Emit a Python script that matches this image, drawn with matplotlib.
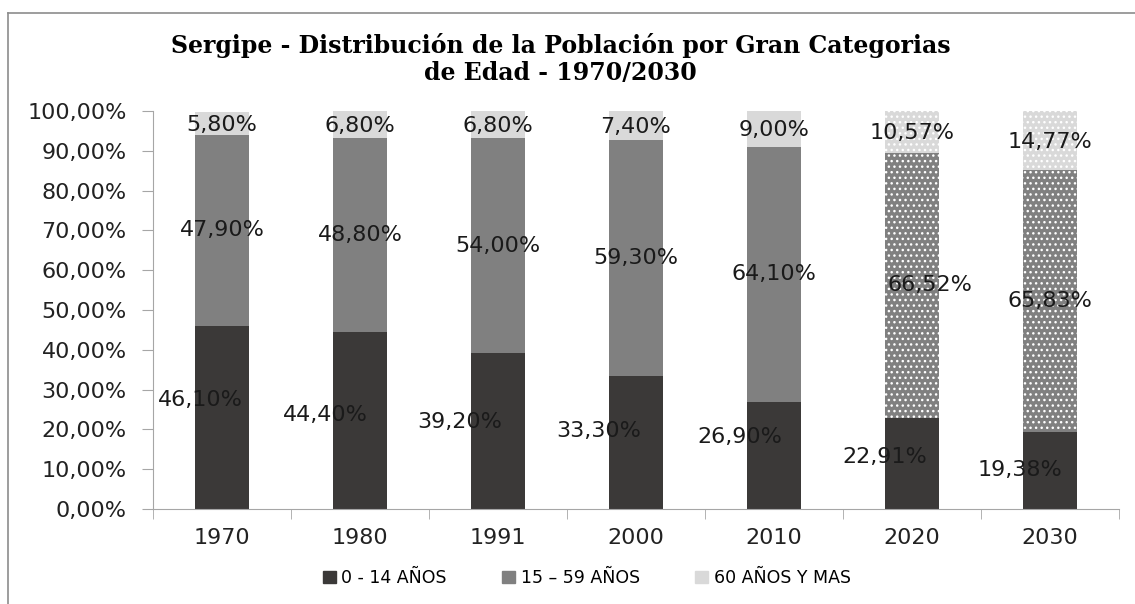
import matplotlib.pyplot as plt
from matplotlib.lines import Line2D

years = ['1970', '1980', '1991', '2000', '2010', '2020', '2030']
age_0_14 = [46.10, 44.40, 39.20, 33.30, 26.90, 22.91, 19.38]
age_15_59 = [47.90, 48.80, 54.00, 59.30, 64.10, 66.52, 65.83]
age_60 = [5.80, 6.80, 6.80, 7.40, 9.00, 10.57, 14.77]
labels_0_14 = ['46,10%', '44,40%', '39,20%', '33,30%', '26,90%', '22,91%', '19,38%']
labels_15_59 = ['47,90%', '48,80%', '54,00%', '59,30%', '64,10%', '66,52%', '65,83%']
labels_60 = ['5,80%', '6,80%', '6,80%', '7,40%', '9,00%', '10,57%', '14,77%']
projected = [False, False, False, False, False, True, True]
series_names = ['0 - 14 AÑOS', '15 – 59 AÑOS', '60 AÑOS Y MAS']

# where the labels of the first series were dragged to in the original (x offset, y in %)
low_label_pos = [(-0.16, 27.4), (-0.25, 23.6), (-0.28, 21.9), (-0.27, 19.6),
                 (-0.25, 18.0), (-0.20, 13.0), (-0.22, 9.8)]

dark = '#3b3938'
mid = '#808080'
light = '#d9d9d9'
axis_col = '#a6a6a6'

fig = plt.figure(figsize=(11.35, 6.04), dpi=100)
ax = fig.add_axes([153/1135, 1 - 509/604, 966/1135, 398/604])

x = list(range(len(years)))
w = 0.39
bottom2 = age_0_14
bottom3 = [a + b for a, b in zip(age_0_14, age_15_59)]

for i in x:
    hatch = '...' if projected[i] else None
    ec = 'white' if projected[i] else 'none'
    ax.bar(i, age_0_14[i], w, color=dark, linewidth=0)
    ax.bar(i, age_15_59[i], w, bottom=bottom2[i], color=mid, hatch=hatch,
           edgecolor=ec, linewidth=0)
    ax.bar(i, age_60[i], w, bottom=bottom3[i], color=light, hatch=hatch,
           edgecolor=ec, linewidth=0)

lab_kw = dict(ha='center', va='center', fontsize=16, color='#1a1a1a')
for i in x:
    dx, ly = low_label_pos[i]
    ax.text(i + dx, ly, labels_0_14[i], **lab_kw)
    ax.text(i + (0.13 if i == 5 else 0), bottom2[i] + age_15_59[i] / 2, labels_15_59[i], **lab_kw)
    ax.text(i, bottom3[i] + age_60[i] / 2 - 0.3, labels_60[i], **lab_kw)

ax.set_xlim(-0.5, len(years) - 0.5)
ax.set_ylim(0, 100)
ax.set_yticks(range(0, 101, 10))
ax.set_yticklabels([f'{v},00%' for v in range(0, 101, 10)], fontsize=16, color='#222222')
ax.set_xticks(x)
ax.set_xticklabels(years, fontsize=16, color='#222222')
ax.set_xticks([i - 0.5 for i in range(len(years) + 1)], minor=True)
ax.tick_params(axis='x', which='major', length=0, pad=14)
ax.tick_params(axis='x', which='minor', length=7, color=axis_col, direction='out')
ax.tick_params(axis='y', length=8, color=axis_col, direction='out', pad=11)
for s in ['top', 'right']:
    ax.spines[s].set_visible(False)
for s in ['left', 'bottom']:
    ax.spines[s].set_color(axis_col)

fig.text(0.494, 0.902, 'Sergipe - Distribución de la Población por Gran Categorias\nde Edad - 1970/2030',
         ha='center', va='center', fontsize=17, fontweight='bold',
         family='DejaVu Serif', linespacing=1.15)

handles = [plt.Rectangle((0, 0), 1, 1, color=c) for c in [dark, mid, light]]
fig.legend(handles, series_names, loc='center', bbox_to_anchor=(0.517, 1 - 578/604),
           ncol=3, frameon=False, fontsize=12.5, handlelength=0.75, handleheight=0.75,
           handletextpad=0.3, columnspacing=3.2)

# outer chart frame (left and top edges visible)
fig.add_artist(Line2D([8/1135, 8/1135], [0, 1 - 13/604], color='#8c8c8c', lw=1.2))
fig.add_artist(Line2D([8/1135, 1], [1 - 13/604, 1 - 13/604], color='#8c8c8c', lw=1.2))

fig.savefig('out.png', dpi=100)
